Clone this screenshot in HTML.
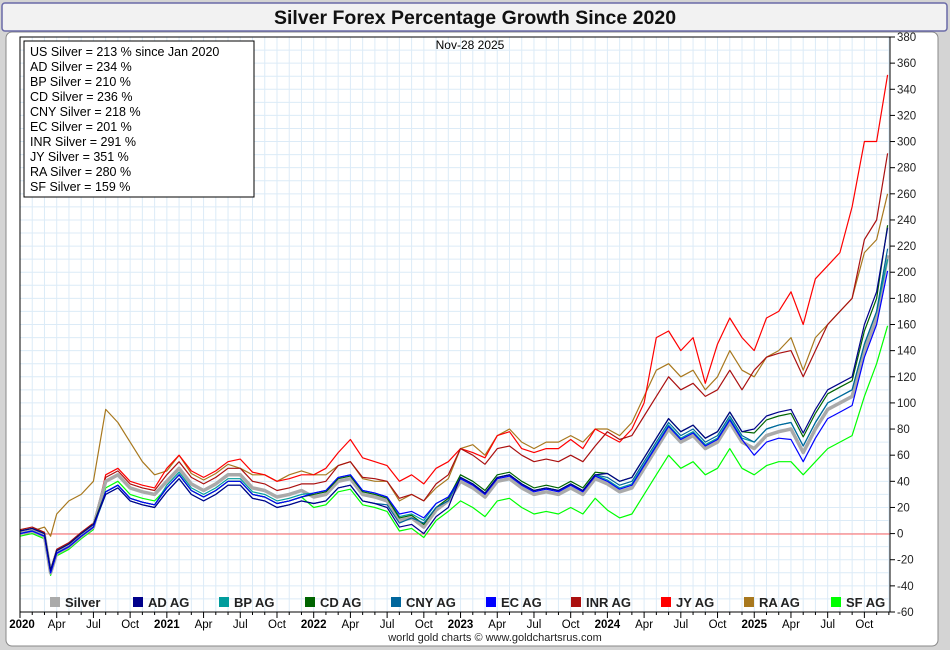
<!DOCTYPE html>
<html><head><meta charset="utf-8">
<style>
body{margin:0;background:#d4d4d4;width:950px;height:650px;overflow:hidden;font-family:"Liberation Sans",sans-serif}
svg{position:absolute;left:0;top:0}
</style></head><body>
<svg id="chart" width="950" height="650" xmlns="http://www.w3.org/2000/svg">
<rect x="6" y="32" width="932" height="614" rx="6" fill="#fff" stroke="#888"/>
<rect x="2" y="3" width="945" height="28" rx="3" fill="#f2f2f2" stroke="#6a6aa8" stroke-width="1.5"/>
<text x="475" y="24" text-anchor="middle" font-size="19.5" font-weight="bold" fill="#111">Silver Forex Percentage Growth Since 2020</text>
<g id="grid"></g>
<line x1="20" y1="534" x2="890" y2="534" stroke="#ff6060" stroke-width="1"/>
<g id="series"></g>
<rect x="20" y="37" width="870" height="575" fill="none" stroke="#000"/>
<g id="axes"></g>
<text x="470" y="49" text-anchor="middle" font-size="12">Nov-28  2025</text>
<g>
<rect x="24" y="41" width="230" height="156" fill="#fff" stroke="#000"/>
<g font-size="12.5" fill="#000" id="statsText"></g>
</g>
<g id="legend"></g>
<text x="495" y="641" text-anchor="middle" font-size="11" fill="#222">world gold charts © www.goldchartsrus.com</text>
</svg>
<script>
const months=[0,1,2,2.5,3,4,5,6,7,8,9,10,11,12,13,14,15,16,17,18,19,20,21,22,23,24,25,26,27,28,29,30,31,32,33,34,35,36,37,38,39,40,41,42,43,44,45,46,47,48,49,50,51,52,53,54,55,56,57,58,59,60,61,62,63,64,65,66,67,68,69,70,70.9];
const silver=[0,2,-2,-30,-15,-10,-2,5,40,45,35,32,30, 40,50,38,33,38,45,45,35,33,28,30,33, 28,30,40,42,30,28,25,10,12,5,18,25, 40,35,28,40,42,35,30,32,30,35,30,42, 38,32,35,50,65,80,70,75,65,70,85,70, 65,75,78,80,62,80,95,100,105,140,165,213];
const adAg=[2,4,0,-28,-13,-8,0,7,30,35,25,22,20, 32,42,30,25,30,37,37,27,25,20,22,25, 23,25,35,37,25,23,20,5,7,0,13,20, 43,38,31,43,45,38,33,35,33,38,33,45, 46,40,43,58,73,88,78,83,73,78,93,78, 80,90,93,95,77,95,110,115,120,160,185,234];
const bpAg=[0,2,-2,-30,-15,-10,-2,5,32,37,27,24,22, 37,47,35,30,35,42,42,32,30,25,27,30, 31,33,43,45,33,31,28,13,15,10,23,28, 43,38,31,43,45,38,33,35,33,38,33,45, 41,35,38,53,68,83,73,78,68,73,88,73, 70,80,83,85,67,85,100,105,110,145,170,210];
const cdAg=[2,4,0,-28,-13,-8,0,7,32,37,27,24,22, 35,45,33,28,33,40,40,30,28,23,25,28, 30,32,42,44,32,30,27,12,14,7,20,27, 45,40,33,45,47,40,35,37,35,40,35,47, 46,40,43,58,73,88,78,83,73,78,93,78, 77,87,90,92,74,92,107,112,117,155,180,236];
const cnyAg=[0,2,-2,-30,-15,-10,-2,5,30,35,25,22,20, 32,42,30,25,30,37,37,27,25,20,22,25, 23,25,35,37,25,23,22,8,12,8,20,25, 43,38,31,43,45,38,33,35,33,38,33,45, 43,37,40,55,70,85,75,80,70,75,90,75, 70,80,83,85,67,85,100,105,110,145,170,218];
const ecAg=[0,2,-2,-30,-15,-10,-2,5,32,37,27,24,22, 35,45,33,28,33,40,40,30,28,23,25,28, 31,33,43,45,33,31,28,15,17,12,23,28, 42,37,30,42,44,37,32,34,32,37,32,44, 40,34,37,52,67,82,72,77,67,72,87,72, 60,70,73,72,55,73,88,93,98,135,160,201];
const inrAg=[3,5,1,-27,-12,-7,1,8,43,48,38,35,33, 45,55,43,38,43,50,50,40,38,33,35,38, 38,40,52,55,43,42,40,27,30,25,38,45, 65,60,53,65,67,60,55,57,55,60,55,67, 78,72,75,90,105,120,110,115,105,110,125,110, 125,135,138,140,120,140,160,170,180,225,240,291];
const jyAg=[0,2,-2,-30,-15,-10,-2,5,45,50,40,37,35, 50,60,48,43,48,55,57,47,45,40,42,45, 45,50,62,72,58,55,52,40,45,38,50,55, 65,62,58,75,78,65,62,65,65,72,65,80, 75,70,80,100,150,155,140,150,115,145,165,150, 140,165,170,185,160,195,205,215,250,300,300,351];
const raAg=[0,2,5,-2,15,25,30,40,95,85,70,55,45, 48,60,46,41,46,53,50,45,45,40,45,48, 45,45,52,55,42,40,40,25,30,25,35,42, 65,68,60,75,80,70,65,70,70,75,70,80, 80,75,85,105,125,130,120,125,110,120,140,125, 120,135,140,150,125,150,160,170,180,215,225,260];
const sfAg=[-2,0,-4,-32,-17,-12,-4,3,35,40,30,27,25, 35,45,33,28,33,40,40,30,28,23,25,28, 20,22,32,34,22,20,17,2,4,-3,10,17, 25,20,13,25,27,20,15,17,15,20,15,27, 18,12,15,30,45,60,50,55,45,50,65,50, 45,52,55,55,45,55,65,70,75,105,130,159];
const seriesNames=["Silver","AD AG","BP AG","CD AG","CNY AG","EC AG","INR AG","JY AG","RA AG","SF AG"];
const yTicks=[380,360,340,320,300,280,260,240,220,200,180,160,140,120,100,80,60,40,20,0,-20,-40,-60];
const xLabels=["2020","Apr","Jul","Oct","2021","Apr","Jul","Oct","2022","Apr","Jul","Oct","2023","Apr","Jul","Oct","2024","Apr","Jul","Oct","2025","Apr","Jul","Oct"];
const statsLines=["US Silver = 213 % since Jan 2020","AD Silver = 234 %","BP Silver = 210 %","CD Silver = 236 %","CNY Silver = 218 %","EC Silver = 201 %","INR Silver = 291 %","JY Silver = 351 %","RA Silver = 280 %","SF Silver = 159 %"];

const NS="http://www.w3.org/2000/svg";
const X0=20,X1=888,MEND=70.93,Y0=37,Y1=612,VMAX=380,VMIN=-60;
const xs=m=>X0+(m/MEND)*(X1-X0);
const ys=v=>Y0+(VMAX-v)/(VMAX-VMIN)*(Y1-Y0);
function mk(tag,attrs,parent){const e=document.createElementNS(NS,tag);for(const k in attrs)e.setAttribute(k,attrs[k]);parent.appendChild(e);return e;}
const grid=document.getElementById('grid'),axes=document.getElementById('axes');
for(let m=0;m<=71;m++){const x=xs(m);if(x>890)break;const l=mk('line',{x1:x,y1:Y0,x2:x,y2:Y1,stroke:'#dcebf7','stroke-width':1},grid);


const t=mk('line',{x1:x,y1:Y1,x2:x,y2:Y1+(m%3==0?6:3),stroke:'#000'},axes);

}
for(let v=VMIN;v<=VMAX;v+=10){const l=mk('line',{x1:X0,y1:ys(v),x2:890,y2:ys(v),stroke:'#dcebf7'},grid);

}
yTicks.forEach(v=>{const y=ys(v);const t=mk('line',{x1:890,y1:y,x2:895,y2:y,stroke:'#000'},axes);


const tx=mk('text',{x:897,y:y+4,'font-size':11.5,fill:'#222'},axes);tx.textContent=v;

});
xLabels.forEach((s,i)=>{const m=i*3;const bold=i%4==0;const tx=mk('text',{x:xs(m)+(i==0?2:0),y:628,'font-size':11.5,'text-anchor':'middle','font-weight':bold?'bold':'normal',fill:'#000'},axes);tx.textContent=s;

});
const data=[silver,adAg,bpAg,cdAg,cnyAg,ecAg,inrAg,jyAg,raAg,sfAg];
const colors=["#aaaaaa","#00008b","#009c9c","#006400","#00669c","#0000ff","#aa1010","#ff0000","#a8781e","#00ff00"];
const widths=[3.5,1.2,1.2,1.2,1.2,1.2,1.2,1.2,1.2,1.2];
const order=[9,8,7,6,0,2,3,4,5,1];
const sg=document.getElementById('series');
order.forEach(i=>{const d=data[i].map((v,k)=>(k?'L':'M')+xs(months[k]).toFixed(1)+' '+ys(v).toFixed(1)).join(' ');
const p=mk('path',{d:d,fill:'none',stroke:colors[i],'stroke-width':widths[i],'stroke-linejoin':'round'},sg);

});
const st=document.getElementById('statsText');
statsLines.forEach((s,i)=>{const t=mk('text',{x:30,y:56+i*15},st);t.textContent=s;

});
const lg=document.getElementById('legend');
const lx=[50,133,219,305,391,486,571,661,744,831];
seriesNames.forEach((n,i)=>{const g=mk('g',{},lg);


mk('rect',{x:lx[i],y:597,width:10,height:10,fill:colors[i]},g);
const t=mk('text',{x:lx[i]+15,y:607,'font-size':13,'font-weight':'bold',fill:'#222'},g);t.textContent=n;});
</script>
</body></html>
